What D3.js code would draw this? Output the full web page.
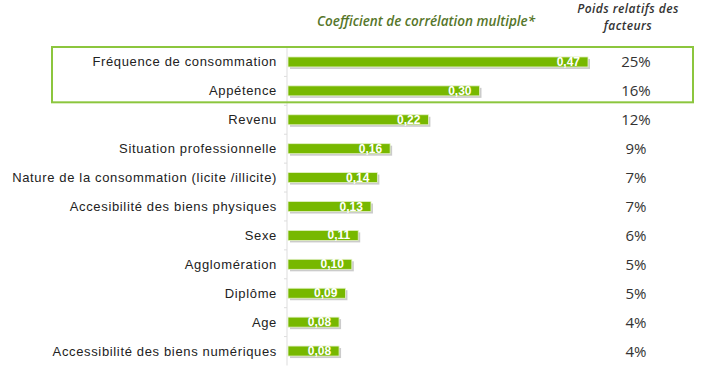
<!DOCTYPE html>
<html lang="fr">
<head>
<meta charset="UTF-8">
<title>Coefficient de corrélation</title>
<style>
    body { margin: 0; background: #fff; }
    svg { display: block; }
</style>
</head>
<body>
<svg width="706" height="372"></svg>
<script src="https://d3js.org/d3.v7.min.js"></script>
<script>
    // data
    const categories = [
        "Fréquence de consommation",
        "Appétence",
        "Revenu",
        "Situation professionnelle",
        "Nature de la consommation (licite /illicite)",
        "Accesibilité des biens physiques",
        "Sexe",
        "Agglomération",
        "Diplôme",
        "Age",
        "Accessibilité des biens numériques"
    ];
    const coefficients = [0.47, 0.30, 0.22, 0.16, 0.14, 0.13, 0.11, 0.10, 0.09, 0.08, 0.08];
    const weights = ["25%", "16%", "12%", "9%", "7%", "7%", "6%", "5%", "5%", "4%", "4%"];
    const headerCoef = "Coefficient de corrélation multiple*";
    const headerWeight = ["Poids relatifs des", "facteurs"];

    const svg = d3.select("svg");
    const barGreen = "#77b800";

    const x = d3.scaleLinear().domain([0, 0.47]).range([288, 588]);
    const y = d3.scaleBand().domain(categories).range([47.5, 365.5]);
    const barH = 10;

    // headers
    svg.append("text")
        .attr("x", 426).attr("y", 26)
        .attr("text-anchor", "middle")
        .style("font-family", "'Open Sans', sans-serif")
        .style("font-style", "italic")
        .style("font-weight", "600")
        .style("font-size", "13.5px")
        .style("fill", "#56762a")
        .text(headerCoef);

    svg.append("g").selectAll("text")
        .data(headerWeight)
        .join("text")
        .attr("x", 628)
        .attr("y", (d, i) => 13 + i * 17)
        .attr("text-anchor", "middle")
        .style("font-family", "'Open Sans', sans-serif")
        .style("font-style", "italic")
        .style("font-weight", "600")
        .style("font-size", "12px")
        .style("letter-spacing", "0.45px")
        .style("fill", "#333")
        .text(d => d);

    // axis (vertical line with small ticks between rows)
    const axis = d3.axisLeft(y).tickSize(3).tickFormat("");
    const gAxis = svg.append("g").attr("transform", "translate(287,0)").call(axis);
    gAxis.select(".domain").attr("stroke", "#ddd").attr("d", "M0,47.5V365.5");
    gAxis.selectAll(".tick line").attr("stroke", "#ddd")
        .attr("transform", "translate(0," + (-y.bandwidth() / 2) + ")");

    // highlight box around first two rows
    svg.append("rect")
        .attr("x", 52)
        .attr("y", y(categories[0]) - 0.5)
        .attr("width", 641)
        .attr("height", y(categories[1]) + y.bandwidth() - y(categories[0]) - 2.5)
        .attr("fill", "none")
        .attr("stroke", "#8cc63e")
        .attr("stroke-width", 2);

    // category labels
    svg.append("g").selectAll("text")
        .data(categories)
        .join("text")
        .attr("x", 277)
        .attr("y", d => y(d) + y.bandwidth() / 2 + 4.5)
        .attr("text-anchor", "end")
        .style("font-family", "'Liberation Sans', Arial, sans-serif")
        .style("font-size", "13px")
        .style("letter-spacing", "0.65px")
        .style("fill", "#222")
        .text(d => d);

    const rows = categories.map((c, i) => ({ c: c, v: coefficients[i], w: weights[i] }));

    // bar shadows
    svg.append("g").selectAll("rect")
        .data(rows)
        .join("rect")
        .attr("x", x(0) + 2)
        .attr("y", d => y(d.c) + y.bandwidth() / 2 - barH / 2 + 2)
        .attr("width", d => x(d.v) - x(0))
        .attr("height", barH)
        .attr("fill", "#b5b5b5")
        .attr("opacity", 0.7);

    // bars
    svg.append("g").selectAll("rect")
        .data(rows)
        .join("rect")
        .attr("x", x(0))
        .attr("y", d => y(d.c) + y.bandwidth() / 2 - barH / 2)
        .attr("width", d => x(d.v) - x(0))
        .attr("height", barH)
        .attr("fill", barGreen)
        .attr("stroke", "#e4f2c8")
        .attr("stroke-width", 0.8);

    // values inside bars
    svg.append("g").selectAll("text")
        .data(rows)
        .join("text")
        .attr("x", d => x(d.v) - 8)
        .attr("y", d => y(d.c) + y.bandwidth() / 2 + 4)
        .attr("text-anchor", "end")
        .style("font-family", "'Liberation Sans', Arial, sans-serif")
        .style("font-weight", "bold")
        .style("font-size", "12px")
        .style("fill", "#fff")
        .text(d => d3.format(".2f")(d.v).replace(".", ","));

    // relative weights
    svg.append("g").selectAll("text")
        .data(rows)
        .join("text")
        .attr("x", 636)
        .attr("y", d => y(d.c) + y.bandwidth() / 2 + 5.5)
        .attr("text-anchor", "middle")
        .style("font-family", "'Open Sans', sans-serif")
        .style("font-size", "15px")
        .style("fill", "#333")
        .text(d => d.w);
</script>
</body>
</html>
